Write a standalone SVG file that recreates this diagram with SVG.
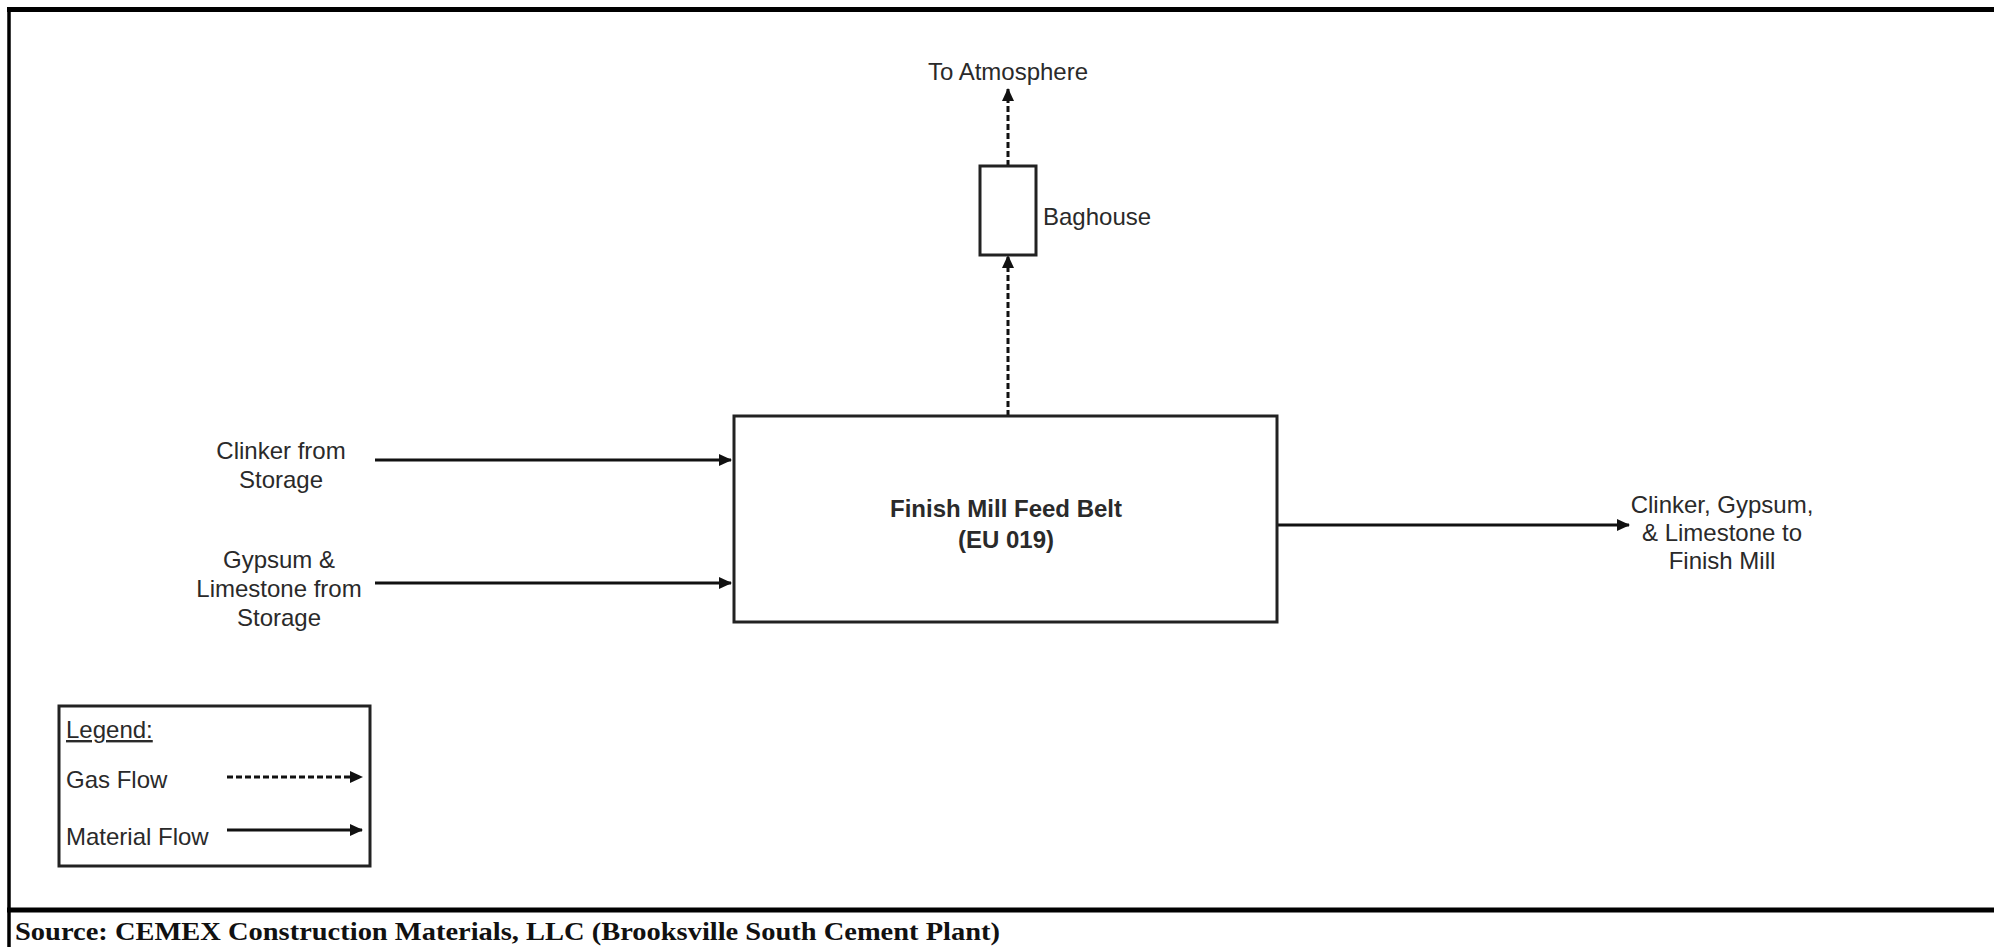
<svg xmlns="http://www.w3.org/2000/svg" width="1994" height="947" viewBox="0 0 1994 947">
  <defs>
    <marker id="ah" markerWidth="13" markerHeight="12" refX="12" refY="6" orient="auto" markerUnits="userSpaceOnUse" viewBox="0 0 13 12">
      <path d="M0,0 L13,6 L0,12 Z" fill="#111"/>
    </marker>
    <style>
      text { font-family: "Liberation Sans", Arial, sans-serif; font-size: 24px; fill: #2a2a2a; }
      .c { text-anchor: middle; }
      .b { font-weight: bold; font-size: 24px; }
      .box { fill: #fff; stroke: #222; stroke-width: 3; }
      .mat { stroke: #111; stroke-width: 3; fill: none; marker-end: url(#ah); }
      .gas { stroke: #111; stroke-width: 3; fill: none; stroke-dasharray: 6 3; marker-end: url(#ah); }
      .frame { stroke: #000; fill: none; }
      .src { font-family: "Liberation Serif", "Times New Roman", serif; font-weight: bold; font-size: 25px; fill: #111; }
    </style>
  </defs>
  <rect width="1994" height="947" fill="#fff"/>

  <g id="frame">
    <line class="frame" x1="7" y1="9.5" x2="1994" y2="9.5" stroke-width="5"/>
    <line class="frame" x1="9" y1="7" x2="9" y2="947" stroke-width="3.5"/>
    <line class="frame" x1="7" y1="910" x2="1994" y2="910" stroke-width="5"/>
    <text class="src" x="15" y="940" textLength="985" lengthAdjust="spacingAndGlyphs">Source: CEMEX Construction Materials, LLC (Brooksville South Cement Plant)</text>
  </g>

  <g id="connectors">
    <line class="mat" x1="375" y1="460" x2="731" y2="460"/>
    <line class="mat" x1="375" y1="583" x2="731" y2="583"/>
    <line class="mat" x1="1278" y1="525" x2="1629" y2="525"/>
    <line class="gas" x1="1008" y1="416" x2="1008" y2="256"/>
    <line class="gas" x1="1008" y1="166" x2="1008" y2="89"/>
  </g>

  <g id="to-atmosphere">
    <text class="c" x="1008" y="80">To Atmosphere</text>
  </g>

  <g id="baghouse">
    <rect class="box" x="980" y="166" width="56" height="89"/>
    <text x="1043" y="225">Baghouse</text>
  </g>

  <g id="feed-belt">
    <rect class="box" x="734" y="416" width="543" height="206"/>
    <text class="c b" x="1006" y="517">Finish Mill Feed Belt</text>
    <text class="c b" x="1006" y="548">(EU 019)</text>
  </g>

  <g id="clinker-source">
    <text class="c" x="281" y="459">Clinker from</text>
    <text class="c" x="281" y="488">Storage</text>
  </g>

  <g id="gypsum-source">
    <text class="c" x="279" y="568">Gypsum &amp;</text>
    <text class="c" x="279" y="597">Limestone from</text>
    <text class="c" x="279" y="626">Storage</text>
  </g>

  <g id="output">
    <text class="c" x="1722" y="513">Clinker, Gypsum,</text>
    <text class="c" x="1722" y="541">&amp; Limestone to</text>
    <text class="c" x="1722" y="569">Finish Mill</text>
  </g>

  <g id="legend">
    <rect class="box" x="59" y="706" width="311" height="160"/>
    <text x="66" y="738" text-decoration="underline">Legend:</text>
    <text x="66" y="788">Gas Flow</text>
    <text x="66" y="845">Material Flow</text>
    <line class="gas" x1="227" y1="777" x2="362" y2="777"/>
    <line class="mat" x1="227" y1="830" x2="362" y2="830"/>
  </g>
</svg>
